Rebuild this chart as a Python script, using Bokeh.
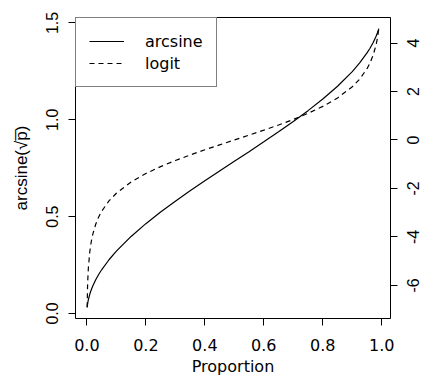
import math
from bokeh.plotting import figure
from bokeh.models import (Range1d, LinearAxis, FixedTicker, PrintfTickFormatter,
                          CustomJSTickFormatter, Legend, LegendItem)
from bokeh.embed import file_html
from bokeh.resources import INLINE

# Values
proportion = [0.001, 0.002, 0.003, 0.005, 0.01, 0.015, 0.02, 0.03, 0.04, 0.05,
              0.075, 0.1, 0.15, 0.2, 0.25, 0.3, 0.35, 0.4, 0.45, 0.5, 0.55,
              0.6, 0.65, 0.7, 0.75, 0.8, 0.85, 0.9, 0.925, 0.95, 0.96, 0.97,
              0.98, 0.985, 0.99]
arcsine_vals = [0.0316, 0.0447, 0.0548, 0.0708, 0.1002, 0.1228, 0.1419, 0.1741,
                0.2014, 0.2255, 0.2774, 0.3218, 0.3977, 0.4637, 0.5236, 0.5796,
                0.6331, 0.6847, 0.7353, 0.7854, 0.8355, 0.8861, 0.9378, 0.9912,
                1.0472, 1.1071, 1.1731, 1.2490, 1.2934, 1.3453, 1.3694, 1.3967,
                1.4289, 1.4480, 1.4706]
logit_vals = [-6.907, -6.213, -5.806, -5.293, -4.595, -4.185, -3.892, -3.476,
              -3.178, -2.944, -2.512, -2.197, -1.735, -1.386, -1.099, -0.847,
              -0.619, -0.405, -0.201, 0.0, 0.201, 0.405, 0.619, 0.847, 1.099,
              1.386, 1.735, 2.197, 2.512, 2.944, 3.178, 3.476, 3.892, 4.185,
              4.595]

x_ticks = [0.0, 0.2, 0.4, 0.6, 0.8, 1.0]
left_ticks = [0.0, 0.5, 1.0, 1.5]
right_ticks = [-6, -4, -2, 0, 2, 4]
series_names = ["arcsine", "logit"]

HFONT = "DejaVu Sans"       # horizontal texts
VFONT = "Liberation Sans"   # rotated texts
FS = "16px"
WIN_W, WIN_H = 423, 379
FW, FH = 315, 301
BL, BR, BT, BB = 75, 33, 17, 61


def padded(vals):
    lo, hi = min(vals), max(vals)
    d = (hi - lo) * 0.04
    return lo - d, hi + d


xr = padded(proportion)
yr = padded(arcsine_vals)
lr = padded(logit_vals)

p = figure(frame_width=FW, frame_height=FH, output_backend="svg",
           toolbar_location=None, x_range=Range1d(*xr), y_range=Range1d(*yr),
           min_border_left=BL, min_border_right=BR, min_border_top=BT,
           min_border_bottom=BB, x_axis_location=None, y_axis_location=None)
p.extra_y_ranges = {"logit": Range1d(*lr)}
p.xgrid.visible = False
p.ygrid.visible = False
p.outline_line_color = "black"
p.outline_line_width = 1
p.background_fill_color = "white"
p.border_fill_color = "white"
# the page is exactly the window; only the empty outer part of the right-hand
# label band (reserved by Bokeh but unused) falls outside and is clipped
p.styles = {"width": f"{WIN_W}px", "height": f"{WIN_H}px", "overflow": "hidden"}


def style(ax, font):
    ax.axis_line_color = None
    ax.major_tick_line_color = "black"
    ax.major_tick_out = 7
    ax.major_tick_in = 0
    ax.minor_tick_line_color = None
    ax.major_label_text_font = font
    ax.major_label_text_font_size = FS
    ax.major_label_text_color = "black"
    ax.axis_label_text_font = font
    ax.axis_label_text_font_size = FS
    ax.axis_label_text_font_style = "normal"
    ax.axis_label_text_color = "black"


xaxis = LinearAxis(ticker=FixedTicker(ticks=x_ticks),
                   formatter=PrintfTickFormatter(format="%.1f"),
                   axis_label="Proportion")
style(xaxis, HFONT)
xaxis.major_label_standoff = 13
xaxis.axis_label_standoff = 3
p.add_layout(xaxis, "below")

laxis = LinearAxis(ticker=FixedTicker(ticks=left_ticks),
                   formatter=PrintfTickFormatter(format="%.1f"),
                   axis_label="arcsine(\u221ap\u0305)")
style(laxis, VFONT)
laxis.axis_label_text_font_size = "17px"
laxis.major_label_orientation = "parallel"
laxis.major_label_standoff = 10
laxis.axis_label_standoff = 13
p.add_layout(laxis, "left")

# Right axis: rotated labels (bottom-to-top) are start-anchored by Bokeh, so the
# label anchors are moved down by half of each label's width; the real tick
# marks are drawn as "minor" ticks at the true values.
px_per_unit = FH / (lr[1] - lr[0])
char_w = {"-": 5.33}
label_w = [sum(char_w.get(c, 8.9) for c in str(t)) for t in right_ticks]
label_anchor = [t - w / 2 / px_per_unit for t, w in zip(right_ticks, label_w)]

raxis = LinearAxis(
    y_range_name="logit",
    ticker=FixedTicker(ticks=label_anchor, minor_ticks=right_ticks),
    formatter=CustomJSTickFormatter(
        args=dict(labels=right_ticks),
        code="""
let best = labels[0];
for (const v of labels) { if (Math.abs(v - tick) < Math.abs(best - tick)) best = v; }
return String(best);
"""))
style(raxis, VFONT)
raxis.major_tick_line_color = None
raxis.minor_tick_line_color = "black"
raxis.minor_tick_out = 7
raxis.minor_tick_in = 0
raxis.major_label_orientation = math.pi / 2
raxis.major_label_standoff = 16
p.add_layout(raxis, "right")

r1 = p.line(proportion, arcsine_vals, line_color="black", line_width=1.2)
r2 = p.line(proportion, logit_vals, y_range_name="logit", line_color="black",
            line_width=1.2, line_dash="5 4")

legend = Legend(items=[LegendItem(label=series_names[0], renderers=[r1]),
                       LegendItem(label=series_names[1], renderers=[r2])],
                location="top_left", margin=0, padding=13, spacing=2,
                label_height=20, glyph_height=20, glyph_width=35,
                label_standoff=21, border_line_color="black",
                border_line_width=1, background_fill_alpha=1,
                label_text_font=HFONT, label_text_font_size=FS,
                label_text_color="black")
p.add_layout(legend)

open("out.html", "w").write(file_html(p, INLINE))
